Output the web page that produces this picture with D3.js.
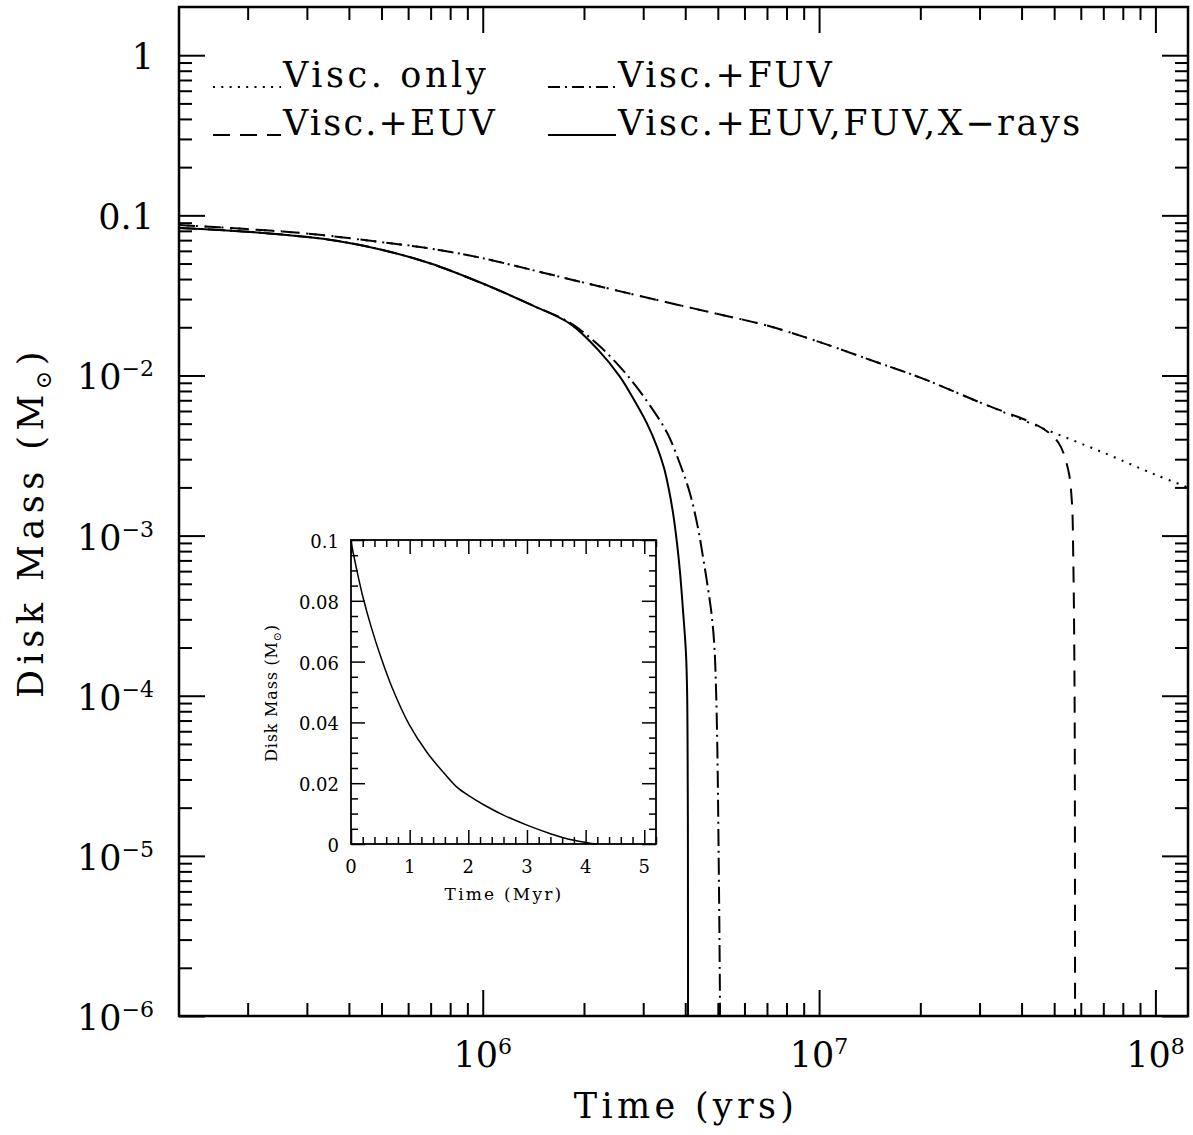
<!DOCTYPE html>
<html>
<head>
<meta charset="utf-8">
<script src="https://cdn.jsdelivr.net/npm/d3@7"></script>
<style>
  body { margin: 0; background: #fff; }
  text { font-family: "DejaVu Serif", serif; fill: #000; }
</style>
</head>
<body>
<svg width="1193" height="1135"></svg>
<script>
// ---- data ----
// Visc. only (dotted)
const tVisc = [1.25e5, 2e5, 3e5, 5e5, 7e5, 1e6, 1.5e6, 2e6, 3e6, 5e6, 7e6, 1e7, 1.5e7, 2e7, 3e7, 4.6e7, 7e7, 1e8, 1.25e8];
const mVisc = [0.087, 0.082, 0.077, 0.068, 0.062, 0.054, 0.044, 0.038, 0.031, 0.0242, 0.0205, 0.0162, 0.0120, 0.0097, 0.0068, 0.0047, 0.0033, 0.0024, 0.0020];

// Visc.+EUV (dashed)
const tEUV = [1.25e5, 2e5, 3e5, 5e5, 7e5, 1e6, 1.5e6, 2e6, 3e6, 5e6, 7e6, 1e7, 1.5e7, 2e7, 3e7, 4.6e7, 5.15e7, 5.5e7, 5.64e7, 5.7e7, 5.75e7, 5.77e7, 5.78e7];
const mEUV = [0.087, 0.082, 0.077, 0.068, 0.062, 0.054, 0.044, 0.038, 0.031, 0.0242, 0.0205, 0.0162, 0.0120, 0.0097, 0.0068, 0.0047, 0.0038, 0.0026, 0.00167, 0.0007, 0.0001, 0.000001, 0.0000001];

// Visc.+FUV (dash-dot)
const tFUV = [1.25e5, 2e5, 3.5e5, 5e5, 7e5, 1e6, 1.4e6, 1.82e6, 2.2e6, 2.57e6, 2.85e6, 3.14e6, 3.53e6, 3.86e6, 4.13e6, 4.36e6, 4.52e6, 4.68e6, 4.806e6, 4.89e6, 4.94e6, 4.984e6, 5.026e6, 5.06e6, 5.078e6, 5.085e6];
const mFUV = [0.0835, 0.079, 0.0705, 0.061, 0.050, 0.0375, 0.0275, 0.0213, 0.0156, 0.0112, 0.0086, 0.0065, 0.0044, 0.0028, 0.00184, 0.00113, 0.00073, 0.00046, 0.000305, 0.000193, 0.000108, 0.000046, 0.000011, 0.0000026, 0.0000008, 0.0000001];

// Visc.+EUV,FUV,X-rays (solid)
const tAll = [1.25e5, 2e5, 3.5e5, 5e5, 7e5, 1e6, 1.4e6, 1.82e6, 2.2e6, 2.56e6, 2.8e6, 3.08e6, 3.3e6, 3.46e6, 3.58e6, 3.68e6, 3.78e6, 3.86e6, 3.94e6, 4.02e6, 4.051e6, 4.064e6, 4.073e6, 4.078e6, 4.079e6];
const mAll = [0.0835, 0.079, 0.0705, 0.061, 0.050, 0.0375, 0.0275, 0.0210, 0.0145, 0.0098, 0.0072, 0.0050, 0.00357, 0.00264, 0.00192, 0.00138, 0.0009, 0.00059, 0.00034, 0.000185, 0.000108, 0.000053, 0.0000167, 0.0000008, 0.0000001];

// inset: linear time in Myr
const insetT = [0, 0.1, 0.2, 0.35, 0.5, 0.7, 1.0, 1.3, 1.6, 1.8, 2.0, 2.3, 2.6, 3.0, 3.4, 3.8, 4.1, 4.2];
const insetM = [0.0995, 0.0900, 0.0815, 0.0710, 0.0620, 0.0515, 0.0390, 0.0300, 0.0230, 0.0188, 0.0160, 0.0125, 0.0095, 0.0062, 0.0034, 0.0012, 0.0002, 0.0];

// tick labels
const xMajor = [1e6, 1e7, 1e8];
const xLabels = ["10^6", "10^7", "10^8"];
const yMajor = [1e-6, 1e-5, 1e-4, 1e-3, 1e-2, 0.1, 1];
const yLabels = ["10^−6", "10^−5", "10^−4", "10^−3", "10^−2", "0.1", "1"];
const insetXMajor = [0, 1, 2, 3, 4, 5];
const insetXLabels = ["0", "1", "2", "3", "4", "5"];
const insetYMajor = [0, 0.02, 0.04, 0.06, 0.08, 0.1];
const insetYLabels = ["0", "0.02", "0.04", "0.06", "0.08", "0.1"];

// legend
const legendNames = ["Visc. only", "Visc.+FUV", "Visc.+EUV", "Visc.+EUV,FUV,X−rays"];

// ---- layout ----
let svg = d3.select("svg");
let L = 179, R = 1188, T = 7, B = 1016;

let x = d3.scaleLog().domain([1.25e5, 1.25e8]).range([L, R]);
let y = d3.scaleLog().domain([1e-6, 2]).range([B, T]);

// minor ticks
let xMinor = [], yMinor = [];
[1e5, 1e6, 1e7, 1e8].forEach(d => d3.range(2, 10).forEach(k => {
  let v = k * d;
  if (v > 1.25e5 && v < 1.25e8) xMinor.push(v);
}));
[1e-6, 1e-5, 1e-4, 1e-3, 1e-2, 0.1, 1].forEach(d => d3.range(2, 10).forEach(k => {
  let v = k * d;
  if (v < 2) yMinor.push(v);
}));

function ticks(axis, vals, size, tr) {
  svg.append("g")
    .attr("transform", tr)
    .call(axis.tickValues(vals).tickSize(-size).tickFormat(""))
    .call(g => g.select(".domain").remove())
    .call(g => g.selectAll("line").attr("stroke", "#000").attr("stroke-width", 2));
}

ticks(d3.axisBottom(x), xMajor, 26, `translate(0,${B})`);
ticks(d3.axisBottom(x), xMinor, 13, `translate(0,${B})`);
ticks(d3.axisTop(x), xMajor, 26, `translate(0,${T})`);
ticks(d3.axisTop(x), xMinor, 13, `translate(0,${T})`);
ticks(d3.axisLeft(y), yMajor, 26, `translate(${L},0)`);
ticks(d3.axisLeft(y), yMinor, 13, `translate(${L},0)`);
ticks(d3.axisRight(y), yMajor, 26, `translate(${R},0)`);
ticks(d3.axisRight(y), yMinor, 13, `translate(${R},0)`);

svg.append("rect")
  .attr("x", L).attr("y", T).attr("width", R - L).attr("height", B - T)
  .attr("fill", "none").attr("stroke", "#000").attr("stroke-width", 2.5);

// power-of-ten labels
function powLabel(sel, s) {
  let p = s.split("^");
  sel.append("tspan").text(p[0]);
  if (p.length > 1) {
    sel.append("tspan").attr("font-size", 22).attr("dy", -13).text(p[1]);
  }
}

yMajor.forEach((v, i) => {
  let t = svg.append("text")
    .attr("x", 154).attr("y", y(v) + 14)
    .attr("text-anchor", "end").attr("font-size", 35);
  powLabel(t, yLabels[i]);
});
xMajor.forEach((v, i) => {
  let t = svg.append("text")
    .attr("x", x(v)).attr("y", 1067)
    .attr("text-anchor", "middle").attr("font-size", 35);
  powLabel(t, xLabels[i]);
});

// axis titles
svg.append("text")
  .attr("x", 686).attr("y", 1118)
  .attr("text-anchor", "middle").attr("font-size", 35)
  .attr("letter-spacing", 4.3)
  .text("Time (yrs)");

let yt = svg.append("text")
  .attr("transform", "translate(43,522) rotate(-90)")
  .attr("text-anchor", "middle").attr("font-size", 35)
  .attr("letter-spacing", 5.5);
yt.append("tspan").text("Disk Mass (M");
yt.append("tspan").attr("font-size", 22).attr("dy", 8).text("⊙");
yt.append("tspan").attr("dy", -8).text(")");

// ---- curves ----
svg.append("clipPath").attr("id", "frame")
  .append("rect").attr("x", L).attr("y", T).attr("width", R - L).attr("height", B - T);

let line = d3.line()
  .x(d => x(d[0]))
  .y(d => y(d[1]))
  .curve(d3.curveCatmullRom.alpha(0.5));

let curves = [
  { t: tVisc, m: mVisc, dash: "2 6.5" },
  { t: tEUV, m: mEUV, dash: "16 10" },
  { t: tFUV, m: mFUV, dash: "17 5 2 5" },
  { t: tAll, m: mAll, dash: null }
];

let cg = svg.append("g").attr("clip-path", "url(#frame)");
curves.forEach(c => {
  cg.append("path")
    .datum(d3.zip(c.t, c.m))
    .attr("d", line)
    .attr("fill", "none")
    .attr("stroke", "#000")
    .attr("stroke-width", 2)
    .attr("stroke-dasharray", c.dash);
});

// ---- legend ----
let legendDash = ["2 6.3", "12 5 2 5", "17 10", null];
let legendPos = [[213, 87], [548, 87], [213, 135], [548, 135]];
let legendSpacing = [3.6, 2.6, 2.2, 2.6];
legendNames.forEach((name, i) => {
  let [lx, ly] = legendPos[i];
  svg.append("line")
    .attr("x1", lx).attr("x2", lx + 68).attr("y1", ly).attr("y2", ly)
    .attr("stroke", "#000").attr("stroke-width", 2)
    .attr("stroke-dasharray", legendDash[i]);
  svg.append("text")
    .attr("x", lx + 70).attr("y", ly)
    .attr("font-size", 35).attr("letter-spacing", legendSpacing[i])
    .text(name);
});

// ---- inset ----
let iL = 351, iR = 656, iT = 540, iB = 844;
let ix = d3.scaleLinear().domain([0, 5.2]).range([iL, iR]);
let iy = d3.scaleLinear().domain([0, 0.1]).range([iB, iT]);

svg.append("rect")
  .attr("x", iL).attr("y", iT).attr("width", iR - iL).attr("height", iB - iT)
  .attr("fill", "#fff");

let ixMinor = d3.range(0, 5.21, 0.2).filter(v => Math.abs(v - Math.round(v)) > 1e-6);
let iyMinor = d3.range(0, 0.1001, 0.005).filter(v => Math.abs(v / 0.02 - Math.round(v / 0.02)) > 1e-6);

function iticks(axis, vals, size, tr) {
  svg.append("g")
    .attr("transform", tr)
    .call(axis.tickValues(vals).tickSize(-size).tickFormat(""))
    .call(g => g.select(".domain").remove())
    .call(g => g.selectAll("line").attr("stroke", "#000").attr("stroke-width", 1.5));
}
iticks(d3.axisBottom(ix), insetXMajor, 14, `translate(0,${iB})`);
iticks(d3.axisBottom(ix), ixMinor, 7, `translate(0,${iB})`);
iticks(d3.axisTop(ix), insetXMajor, 14, `translate(0,${iT})`);
iticks(d3.axisTop(ix), ixMinor, 7, `translate(0,${iT})`);
iticks(d3.axisLeft(iy), insetYMajor, 14, `translate(${iL},0)`);
iticks(d3.axisLeft(iy), iyMinor, 7, `translate(${iL},0)`);
iticks(d3.axisRight(iy), insetYMajor, 14, `translate(${iR},0)`);
iticks(d3.axisRight(iy), iyMinor, 7, `translate(${iR},0)`);

svg.append("rect")
  .attr("x", iL).attr("y", iT).attr("width", iR - iL).attr("height", iB - iT)
  .attr("fill", "none").attr("stroke", "#000").attr("stroke-width", 1.8);

insetYMajor.forEach((v, i) => {
  svg.append("text")
    .attr("x", 339).attr("y", iy(v) + 8)
    .attr("text-anchor", "end").attr("font-size", 18)
    .text(insetYLabels[i]);
});
insetXMajor.forEach((v, i) => {
  svg.append("text")
    .attr("x", ix(v)).attr("y", 873)
    .attr("text-anchor", "middle").attr("font-size", 18)
    .text(insetXLabels[i]);
});

svg.append("text")
  .attr("x", 504).attr("y", 900)
  .attr("text-anchor", "middle").attr("font-size", 17)
  .attr("letter-spacing", 2.2)
  .text("Time (Myr)");

let iyt = svg.append("text")
  .attr("transform", "translate(277,693) rotate(-90)")
  .attr("text-anchor", "middle").attr("font-size", 16)
  .attr("letter-spacing", 0.8);
iyt.append("tspan").text("Disk Mass (M");
iyt.append("tspan").attr("font-size", 11).attr("dy", 4).text("⊙");
iyt.append("tspan").attr("dy", -4).text(")");

svg.append("path")
  .datum(d3.zip(insetT, insetM))
  .attr("d", d3.line().x(d => ix(d[0])).y(d => iy(d[1])).curve(d3.curveCatmullRom.alpha(0.5)))
  .attr("fill", "none")
  .attr("stroke", "#000")
  .attr("stroke-width", 1.5);
</script>
</body>
</html>
